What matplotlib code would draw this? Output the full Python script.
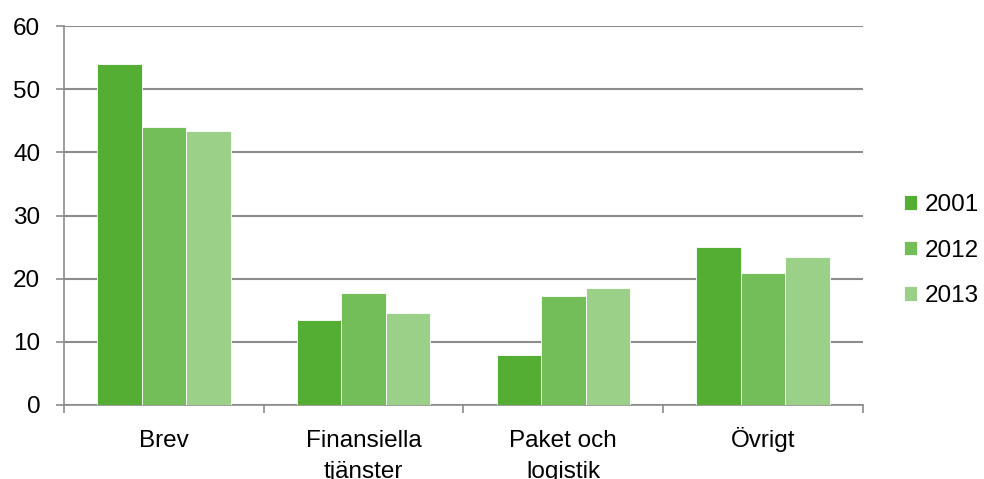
import numpy as np
import matplotlib.pyplot as plt

plt.rcParams['font.family'] = ['Liberation Sans', 'DejaVu Sans']

categories = ['Brev', 'Finansiella\ntjänster', 'Paket och\nlogistik', 'Övrigt']
years = ['2001', '2012', '2013']
v2001 = [54.0, 13.5, 7.9, 25.0]
v2012 = [44.0, 17.7, 17.3, 20.9]
v2013 = [43.4, 14.5, 18.6, 23.5]
colors = ['#55ae34', '#74be5a', '#9bd088']

fs = 17.5
fig = plt.figure(figsize=(9.84, 4.79), dpi=100)
ax = fig.add_axes([0.065, 0.1545, 0.812, 0.7912])

x = np.arange(len(categories))
w = 0.223
for i, (vals, lab) in enumerate(zip([v2001, v2012, v2013], years)):
    ax.bar(x + (i - 1) * w, vals, w, color=colors[i], label=lab,
           edgecolor='white', linewidth=0.6, zorder=3)

ax.set_xlim(-0.5, 3.5)
ax.set_ylim(0, 60)
ax.set_yticks(range(0, 61, 10))
ax.yaxis.grid(True, color='#8c8c8c', linewidth=1.5, zorder=0)
ax.set_axisbelow(True)

# category boundaries as ticks, names as text, each line on its own baseline
ax.set_xticks(np.arange(-0.5, 4, 1))
ax.set_xticklabels([])
for xi, name in zip(x, categories):
    for j, line in enumerate(name.split('\n')):
        ax.text(xi, -0.11 - j * 0.082, line, transform=ax.get_xaxis_transform(),
                ha='center', va='baseline', fontsize=fs, clip_on=False)
ax.tick_params(axis='x', length=6, color='#8c8c8c', width=1.2)
ax.tick_params(axis='y', length=6, color='#8c8c8c', width=1.2, labelsize=fs, pad=11)

for s in ['top', 'right']:
    ax.spines[s].set_visible(False)
for s in ['left', 'bottom']:
    ax.spines[s].set_color('#8c8c8c')
    ax.spines[s].set_linewidth(1.2)

ax.legend(loc='center left', bbox_to_anchor=(1.024, 0.407), frameon=False,
          fontsize=fs, handlelength=0.55, handleheight=0.55, handletextpad=0.3,
          labelspacing=0.97)

fig.savefig('out.png', dpi=100)
